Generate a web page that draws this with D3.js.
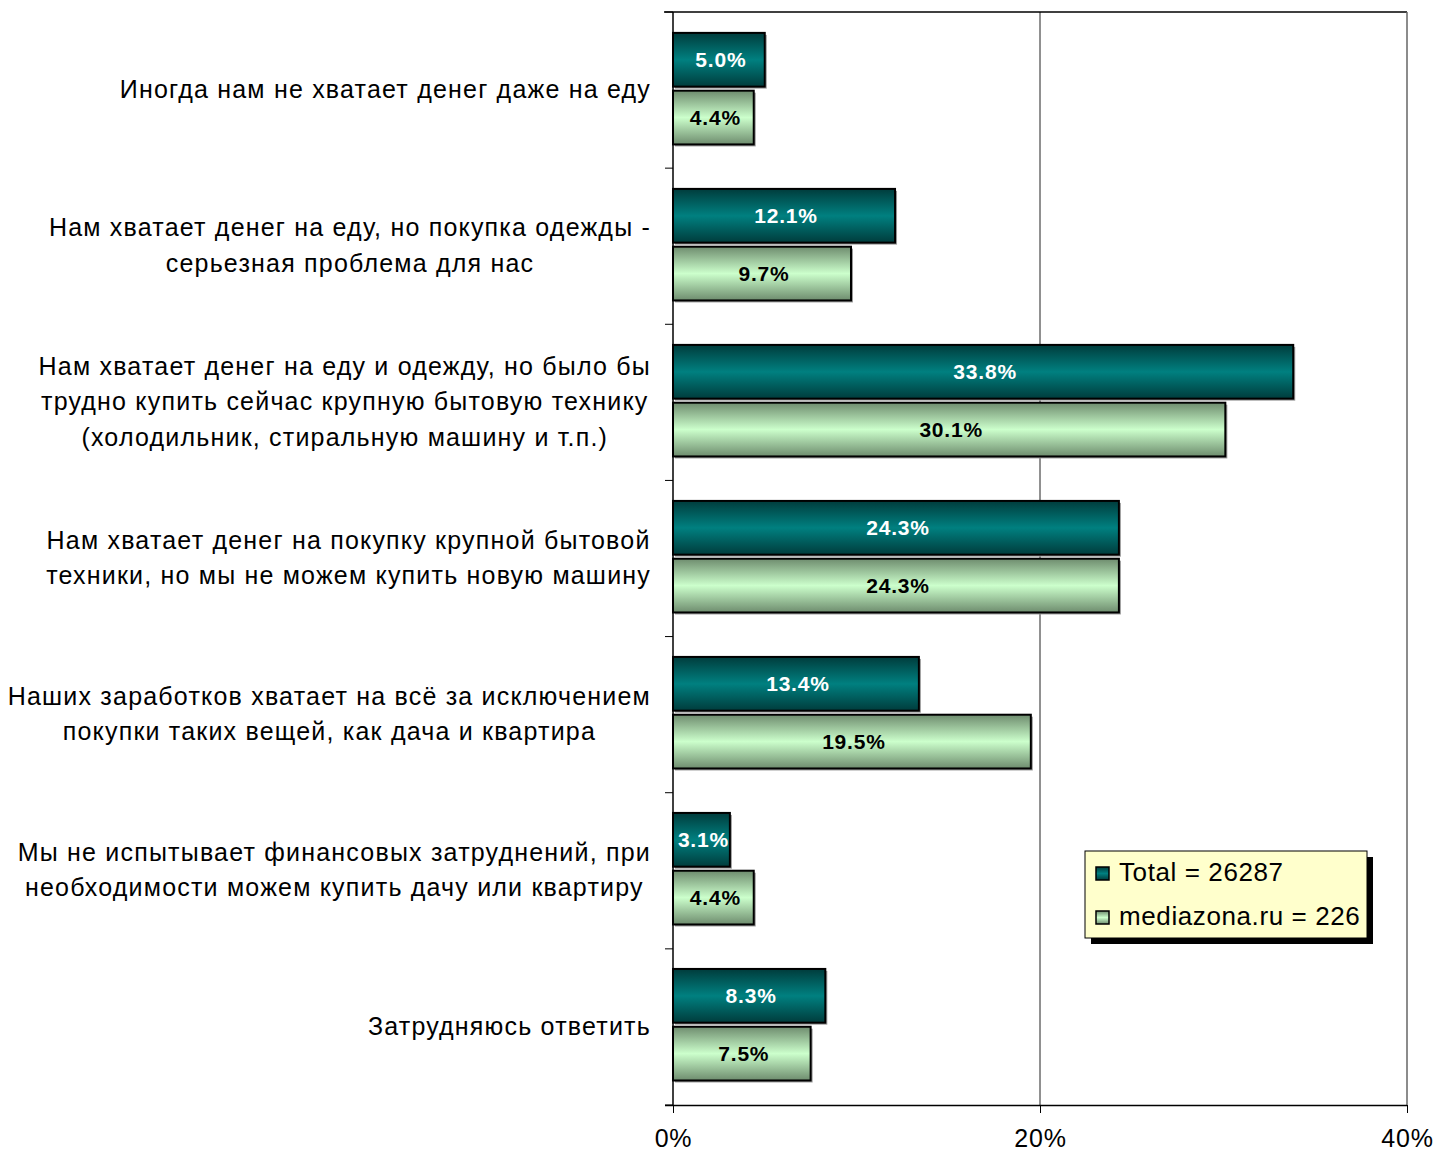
<!DOCTYPE html>
<html><head><meta charset="utf-8">
<script src="https://cdn.jsdelivr.net/npm/d3@7"></script>
<style>body{margin:0;background:#fff}svg{display:block}text{font-family:"Liberation Sans",Arial,sans-serif}</style>
</head><body>
<svg id="chart" width="1435" height="1153"></svg>
<script>
const categories = [
  ["Иногда нам не хватает денег даже на еду"],
  ["Нам хватает денег на еду, но покупка одежды -", "серьезная проблема для нас"],
  ["Нам хватает денег на еду и одежду, но было бы", "трудно купить сейчас крупную бытовую технику", "(холодильник, стиральную машину и т.п.)"],
  ["Нам хватает денег на покупку крупной бытовой", "техники, но мы не можем купить новую машину"],
  ["Наших заработков хватает на всё за исключением", "покупки таких вещей, как дача и квартира"],
  ["Мы не испытывает финансовых затруднений, при", "необходимости можем купить дачу или квартиру"],
  ["Затрудняюсь ответить"]
];
const seriesNames = ["Total = 26287", "mediazona.ru = 226"];
const totalValues = [5.0, 12.1, 33.8, 24.3, 13.4, 3.1, 8.3];
const mediazonaValues = [4.4, 9.7, 30.1, 24.3, 19.5, 4.4, 7.5];
const xTicks = [0, 20, 40];

const svg = d3.select("#chart");
const pLeft = 673, pRight = 1407, pTop = 12, pBottom = 1105;
const x = d3.scaleLinear().domain([0, 40]).range([pLeft, pRight]);
const y = d3.scaleBand().domain(d3.range(categories.length)).range([pTop, pBottom])
  .paddingInner(0.285).paddingOuter(0.1455).align(0.46);
const ySub = d3.scaleBand().domain([0, 1]).range([0, y.bandwidth()]).paddingInner(0.07);

const defs = svg.append("defs");
function grad(id, edge, mid) {
  const g = defs.append("linearGradient").attr("id", id).attr("x1", 0).attr("y1", 0).attr("x2", 0).attr("y2", 1);
  g.append("stop").attr("offset", "0%").attr("stop-color", edge);
  g.append("stop").attr("offset", "50%").attr("stop-color", mid);
  g.append("stop").attr("offset", "100%").attr("stop-color", edge);
}
grad("gTeal", "#003c3c", "#008080");
grad("gGreen", "#6e8c6e", "#ccffcc");
const fills = ["url(#gTeal)", "url(#gGreen)"];
const labelColors = ["#fff", "#000"];

// gridline at 20%
svg.append("line").attr("x1", x(20)).attr("x2", x(20)).attr("y1", pTop).attr("y2", pBottom).attr("stroke", "#222").attr("stroke-width", 1);
// top border and right border
svg.append("line").attr("x1", pLeft - 9).attr("x2", pRight).attr("y1", pTop).attr("y2", pTop).attr("stroke", "#000").attr("stroke-width", 1.5);
svg.append("line").attr("x1", pRight).attr("x2", pRight).attr("y1", pTop).attr("y2", pBottom).attr("stroke", "#666").attr("stroke-width", 1.5);

// bottom axis
const xAxis = d3.axisBottom(x).tickValues(xTicks).tickFormat(d => d + "%").tickSizeInner(8).tickSizeOuter(0).tickPadding(16);
const gx = svg.append("g").attr("transform", `translate(0,${pBottom})`).call(xAxis);
gx.select(".domain").attr("d", `M${pLeft - 8},0.5H${pRight}`).attr("stroke", "#000").attr("stroke-width", 1.5);
gx.selectAll(".tick line").attr("stroke", "#000");
gx.selectAll(".tick text").attr("font-size", 25).attr("letter-spacing", 0.8).attr("fill", "#000").attr("font-family", '"Liberation Sans",Arial,sans-serif');

// left axis line with ticks at category boundaries
svg.append("line").attr("x1", pLeft).attr("x2", pLeft).attr("y1", pTop).attr("y2", pBottom).attr("stroke", "#000").attr("stroke-width", 1.5);
const boundaries = d3.range(categories.length + 1).map(i => pTop + (pBottom - pTop) * i / categories.length);
svg.selectAll(".btick").data(boundaries).enter().append("line")
  .attr("x1", pLeft - 8).attr("x2", pLeft).attr("y1", d => d).attr("y2", d => d).attr("stroke", "#000").attr("stroke-width", 1);

// bars
const series = [totalValues, mediazonaValues];
series.forEach((vals, s) => {
  const g = svg.append("g");
  const yy = i => y(i) + ySub(s);
  g.selectAll(".shadow").data(vals).enter().append("rect")
    .attr("x", x(0) + 2).attr("y", (d, i) => yy(i) + 2)
    .attr("width", d => x(d) - x(0)).attr("height", ySub.bandwidth())
    .attr("fill", "#9a9a9a");
  g.selectAll(".bar").data(vals).enter().append("rect")
    .attr("x", x(0)).attr("y", (d, i) => yy(i))
    .attr("width", d => x(d) - x(0)).attr("height", ySub.bandwidth())
    .attr("fill", fills[s]).attr("stroke", "#000").attr("stroke-width", 2);
  g.selectAll(".lbl").data(vals).enter().append("text")
    .attr("x", d => (x(0) + x(d)) / 2 + 2).attr("y", (d, i) => yy(i) + ySub.bandwidth() / 2)
    .attr("dy", "0.36em").attr("text-anchor", "middle")
    .attr("font-size", 21).attr("letter-spacing", 0.8).attr("font-weight", "bold").attr("fill", labelColors[s])
    .text(d => d.toFixed(1) + "%");
});

// category labels
const labelRight = 650, lineH = 35.5;
categories.forEach((lines, i) => {
  const cy = pTop + (pBottom - pTop) * (i + 0.5) / categories.length - 1;
  const g = svg.append("g");
  const texts = lines.map((ln, k) => g.append("text")
    .attr("font-size", 25).attr("letter-spacing", 1.2).attr("fill", "#000").attr("text-anchor", "middle")
    .attr("y", cy + (k - (lines.length - 1) / 2) * lineH).attr("dy", "0.35em").text(ln));
  const w = d3.max(texts, t => t.node().getComputedTextLength());
  texts.forEach(t => t.attr("x", labelRight - w / 2 + 1));
});

// legend
const lg = svg.append("g");
const lx = 1085, ly = 851, lw = 282, lh = 87;
lg.append("rect").attr("x", lx + 6).attr("y", ly + 6).attr("width", lw).attr("height", lh).attr("fill", "#000");
lg.append("rect").attr("x", lx).attr("y", ly).attr("width", lw).attr("height", lh).attr("fill", "#ffffcc").attr("stroke", "#000").attr("stroke-width", 1);
seriesNames.forEach((name, s) => {
  const cy = ly + 21 + s * 44;
  lg.append("rect").attr("x", lx + 11).attr("y", cy - 5).attr("width", 13).attr("height", 13)
    .attr("fill", fills[s]).attr("stroke", "#000").attr("stroke-width", 1.5);
  lg.append("text").attr("x", lx + 34).attr("y", cy).attr("dy", "0.35em").attr("font-size", 26).attr("letter-spacing", 0.6).attr("fill", "#000").text(name);
});
</script>
</body></html>
